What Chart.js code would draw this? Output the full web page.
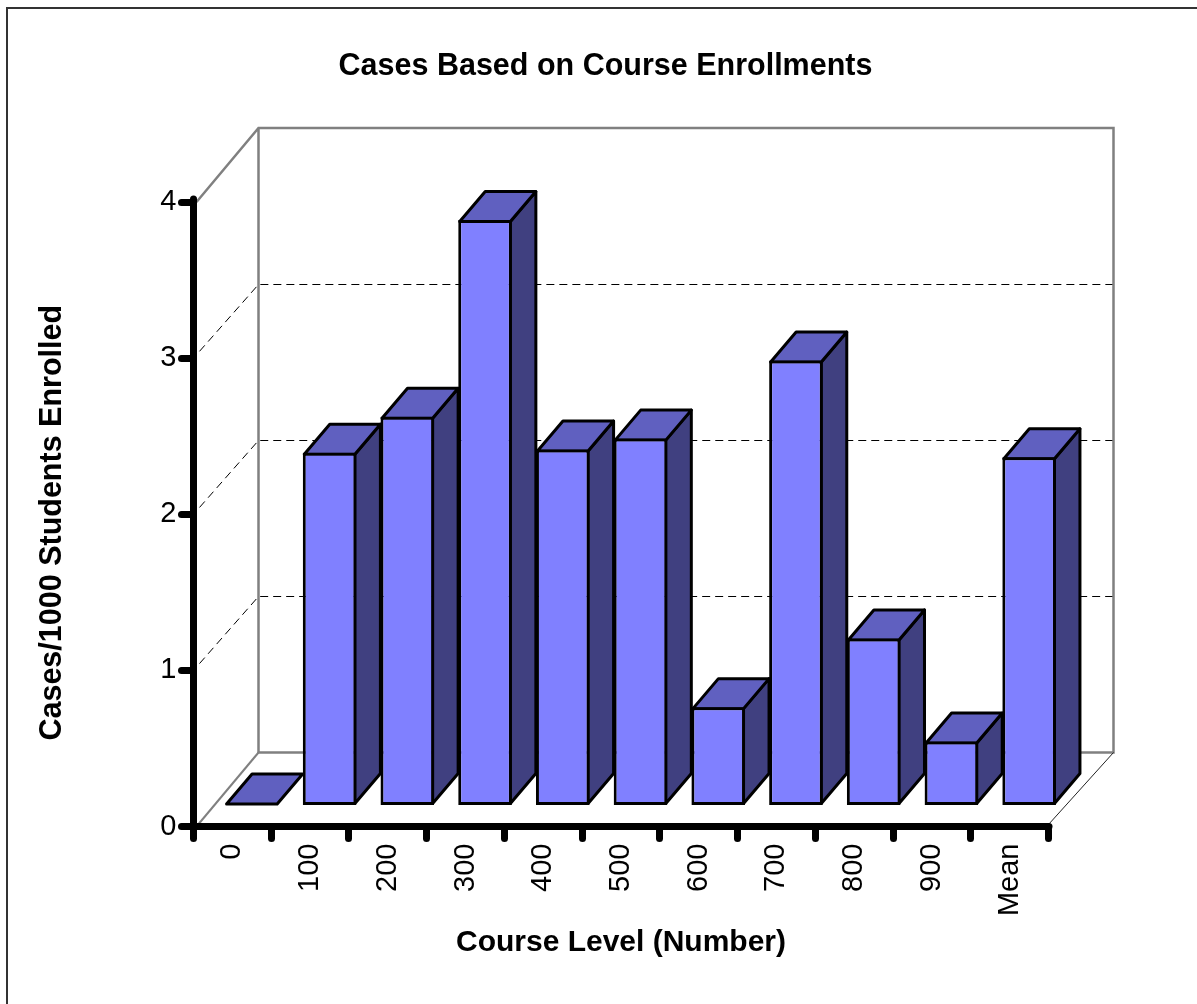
<!DOCTYPE html>
<html>
<head>
<meta charset="utf-8">
<title>Cases Based on Course Enrollments</title>
<script src="https://cdn.jsdelivr.net/npm/chart.js@4/dist/chart.umd.min.js"></script>
<style>
  html, body { margin: 0; padding: 0; background: #fff; }
  canvas { display: block; }
</style>
</head>
<body>
<canvas id="barChart" width="1197" height="1004"></canvas>
<script>
const categories = ['0', '100', '200', '300', '400', '500', '600', '700', '800', '900', 'Mean'];
const casesPerThousand = [0, 2.26, 2.49, 3.75, 2.28, 2.35, 0.63, 2.85, 1.07, 0.41, 2.23];
const dashedLevels = [1, 2, 3];

// fake 3d: offsets in px
const WALL_DX = 65, WALL_DY = -74;
const BAR_DX = 19.5, BAR_DY = -21;
const DEPTH_DX = 25.5, DEPTH_DY = -30;

function poly(ctx, pts, fill, stroke) {
  ctx.beginPath();
  pts.forEach((p, i) => i ? ctx.lineTo(p[0], p[1]) : ctx.moveTo(p[0], p[1]));
  if (fill) {
    ctx.closePath();
    ctx.fillStyle = fill;
    ctx.fill();
  }
  ctx.strokeStyle = stroke;
  ctx.stroke();
}

const fake3d = {
  id: 'fake3d',
  beforeDraw(chart) {
    const ctx = chart.ctx, a = chart.chartArea, y = chart.scales.y;
    ctx.save();
    // page frame
    ctx.strokeStyle = '#333';
    ctx.lineWidth = 2;
    ctx.beginPath();
    ctx.moveTo(7, chart.height);
    ctx.lineTo(7, 8);
    ctx.lineTo(chart.width, 8);
    ctx.stroke();

    // dashed levels on side wall and back wall
    ctx.lineWidth = 1;
    ctx.setLineDash([8, 5]);
    dashedLevels.forEach(v => {
      const py = y.getPixelForValue(v);
      const backY = Math.floor(py + WALL_DY) + 0.5;
      poly(ctx, [[a.left + 6, py - 6.8], [a.left + WALL_DX, backY], [a.right + WALL_DX, backY]], null, '#000');
    });
    ctx.setLineDash([]);

    // walls
    const l = a.left + WALL_DX, r = a.right + WALL_DX, t = a.top + WALL_DY, b = a.bottom + WALL_DY;
    ctx.lineWidth = 2.5;
    poly(ctx, [[a.left + 3, a.top], [l, t], [r, t], [r, b], [l, b], [l, t]], null, '#808080');
    ctx.lineWidth = 2;
    poly(ctx, [[a.left + 3, a.bottom], [l, b]], null, '#808080');
    ctx.lineWidth = 1;
    poly(ctx, [[a.right, a.bottom - 2], [r, b]], null, '#222');
    ctx.restore();
    ctx.lineCap = 'round'; // ticks have round ends
  },
  beforeDatasetsDraw(chart) {
    const ctx = chart.ctx;
    ctx.lineCap = 'butt';
    ctx.save();
    ctx.translate(BAR_DX, BAR_DY);
    ctx.lineWidth = 3;
    ctx.lineJoin = 'round';
    chart.getDatasetMeta(0).data.forEach(bar => {
      const p = bar.getProps(['x', 'y', 'base', 'width']);
      const x1 = p.x - p.width / 2 + 1.5, x2 = p.x + p.width / 2 - 1.5;
      const top = p.y + 1.5, bottom = p.base - 1.5;
      if (bottom > top) {
        poly(ctx, [[x2, top], [x2 + DEPTH_DX, top + DEPTH_DY], [x2 + DEPTH_DX, bottom + DEPTH_DY], [x2, bottom]], '#404080', '#000');
      }
      const ty = Math.min(top, bottom);
      poly(ctx, [[x1, ty], [x1 + DEPTH_DX, ty + DEPTH_DY], [x2 + DEPTH_DX, ty + DEPTH_DY], [x2, ty]], '#6060c0', '#000');
    });
    ctx.restore();
    ctx.save();
    ctx.translate(BAR_DX, BAR_DY);
  },
  afterDatasetsDraw(chart) {
    chart.ctx.restore();
  }
};

Chart.defaults.font.family = '"Liberation Sans", Arial, sans-serif';
Chart.defaults.color = '#000';

new Chart(document.getElementById('barChart'), {
  type: 'bar',
  plugins: [fake3d],
  data: {
    labels: categories,
    datasets: [{
      label: 'Cases/1000 Students Enrolled',
      data: casesPerThousand,
      backgroundColor: '#8080ff',
      borderColor: '#000',
      borderWidth: 3,
      borderSkipped: false,
      barPercentage: 0.69,
      categoryPercentage: 1,
      clip: false
    }]
  },
  options: {
    responsive: false,
    animation: false,
    layout: {
      autoPadding: false,
      padding: { left: 14, right: 0, top: 0, bottom: 0 }
    },
    plugins: {
      legend: { display: false },
      tooltip: { enabled: false },
      title: {
        display: true,
        text: 'Cases Based on Course Enrollments',
        font: { size: 30.5, weight: 'bold' },
        padding: { top: 48.7, bottom: 116.7 }
      }
    },
    scales: {
      x: {
        afterFit: s => { s.height = 177.5; },
        border: { color: '#000', width: 7 },
        grid: { offset: true, drawOnChartArea: false, tickLength: 12, tickColor: '#000', tickWidth: 7 },
        ticks: { autoSkip: false, minRotation: 90, maxRotation: 90, padding: 5, font: { size: 29 } },
        title: {
          display: true,
          text: 'Course Level (Number)',
          font: { size: 30, weight: 'bold' },
          padding: { top: 0, bottom: 43 }
        }
      },
      y: {
        min: 0,
        max: 4,
        afterFit: s => { s.width = 179.5; },
        border: { color: '#000', width: 7 },
        grid: { drawOnChartArea: false, tickLength: 12, tickColor: '#000', tickWidth: 7 },
        ticks: { stepSize: 1, padding: 5, font: { size: 29 } },
        title: {
          display: true,
          text: 'Cases/1000 Students Enrolled  ',
          font: { size: 30.5, weight: 'bold' },
          padding: { top: 20, bottom: 0 }
        }
      },
      // empty axis, only keeps the plot clear of the right side
      rightGap: {
        type: 'linear',
        position: 'right',
        afterFit: s => { s.width = 148.5; },
        border: { display: false },
        grid: { display: false },
        ticks: { display: false }
      }
    }
  }
});
</script>
</body>
</html>
